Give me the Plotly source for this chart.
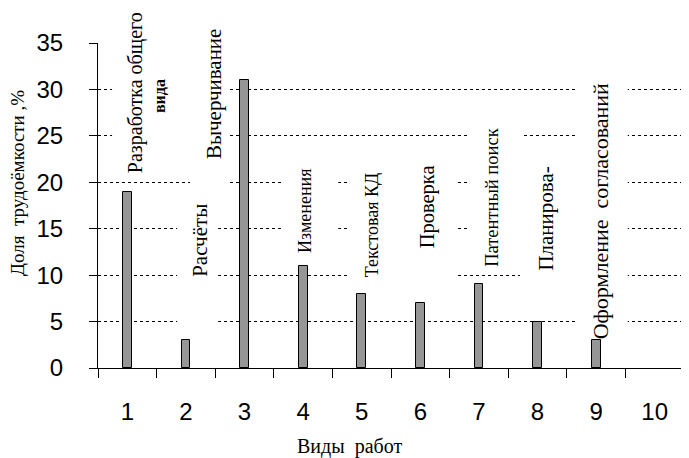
import plotly.graph_objects as go

# ---- data ----
categories = ["1", "2", "3", "4", "5", "6", "7", "8", "9", "10"]
values = [19, 3, 31, 11, 8, 7, 9, 5, 3, None]
label_texts = [
    "Разработка общего",
    "вида",
    "Вычерчивание",
    "Расчёты",
    "Изменения",
    "Текстовая КД",
    "Проверка",
    "Патентный поиск",
    "Планирова-",
    "Оформление  согласований",
]
y_title = "Доля  трудоёмкости ,%"
x_title = "Виды  работ"

# label placement (x in category-index units, y in value units) and font sizes
label_x = [0.13, 0.56, 1.48, 1.24, 3.03, 4.18, 5.13, 6.22, 7.13, 8.07]
label_y = [29.7, 29.3, 29.5, 13.8, 16.9, 15.4, 17.4, 18.3, 16.1, 16.9]
label_size = [20, 16, 21, 21, 18, 18, 20.5, 18.5, 21, 22]
label_bold = [False, True, False, False, False, False, False, False, False, False]

# white label boxes that interrupt the gridlines: (x0, x1, y0, y1)
boxes = [
    (-0.26, 1.07, 21.5, 36),
    (1.07, 1.75, 17.5, 36),
    (0.85, 1.55, 3.5, 17.5),
    (2.64, 3.60, 12.5, 22),
    (3.75, 5.64, 7.5, 22),
    (5.80, 6.75, 12.5, 27.5),
    (6.70, 7.64, 7.5, 22),
    (7.64, 8.54, 2.5, 32.5),
]

serif = "Liberation Serif"
sans = "Liberation Sans"

fig = go.Figure()
fig.add_trace(go.Bar(
    x=categories, y=values, width=0.15,
    marker=dict(color="#969696", line=dict(color="black", width=1)),
    showlegend=False,
))

for (x0, x1, y0, y1) in boxes:
    fig.add_shape(type="rect", xref="x", yref="y", x0=x0, x1=x1, y0=y0, y1=y1,
                  fillcolor="white", line=dict(width=0), layer="between")

for t, x, y, s, b in zip(label_texts, label_x, label_y, label_size, label_bold):
    fig.add_annotation(x=x, y=y, xref="x", yref="y", text=f"<b>{t}</b>" if b else t,
                       textangle=-90, showarrow=False, xanchor="center", yanchor="middle",
                       font=dict(family=serif, size=s, color="black"))

fig.add_annotation(xref="paper", yref="paper", x=(349 - 98) / 586, y=(368 - 446) / 325,
                   text=x_title, showarrow=False, xanchor="center", yanchor="middle",
                   font=dict(family=serif, size=20, color="black"))
fig.add_annotation(xref="paper", yref="paper", x=(17 - 98) / 586, y=(368 - 183) / 325,
                   text=y_title, showarrow=False, textangle=-90,
                   xanchor="center", yanchor="middle",
                   font=dict(family=serif, size=19, color="black"))

fig.update_xaxes(type="category", range=[-0.5, 9.5], tickson="boundaries",
                 ticks="outside", ticklen=9, tickcolor="black", tickwidth=1,
                 showline=True, linecolor="black", linewidth=1, showgrid=False,
                 ticklabelstandoff=22,
                 tickfont=dict(family=sans, size=24, color="black"))
fig.update_yaxes(range=[0, 35], dtick=5, showgrid=True, gridcolor="black",
                 gridwidth=1, griddash="3px,3px", zeroline=False,
                 ticks="outside", ticklen=8, tickcolor="black", tickwidth=1,
                 showline=True, linecolor="black", linewidth=1,
                 ticklabelstandoff=21,
                 tickfont=dict(family=sans, size=24, color="black"))

# page body adds an 8px offset, so the figure is 8px smaller on each axis
fig.update_layout(width=681, height=450, margin=dict(l=90, r=5, t=35, b=90),
                  plot_bgcolor="white", paper_bgcolor="white", bargap=0)

fig.write_html("out.html")
